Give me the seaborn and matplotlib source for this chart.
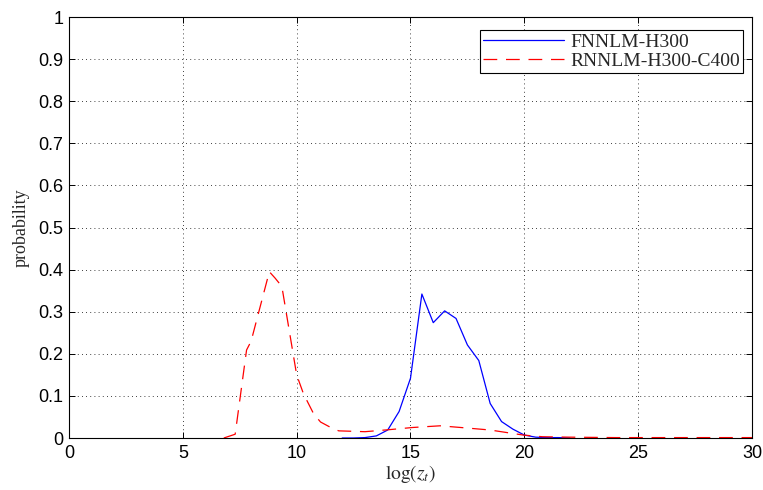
import numpy as np
import pandas as pd
import matplotlib
matplotlib.use("Agg")
import matplotlib.pyplot as plt
import seaborn as sns

# Probability distributions of log(z_t) for the two language models
fnn_x = [12.0, 12.5, 13.0, 13.5, 14.0, 14.5, 15.0, 15.5, 16.0, 16.5, 17.0, 17.5,
         18.0, 18.5, 19.0, 19.5, 20.0, 20.5, 21.0, 21.5, 22.0]
fnn_y = [0.0, 0.0, 0.001, 0.005, 0.019, 0.063, 0.142, 0.342, 0.274, 0.302, 0.284, 0.221,
         0.184, 0.082, 0.039, 0.021, 0.007, 0.002, 0.001, 0.001, 0.0]

rnn_x = [6.8, 7.3, 7.8, 8.0, 8.8, 9.05, 9.35, 10.0, 10.3, 10.75, 11.05, 11.6, 11.85,
         13.0, 14.1, 15.1, 16.3, 17.2, 18.5, 19.95, 20.8, 22.0, 24.0, 26.0, 28.0, 30.0]
rnn_y = [0.0, 0.009, 0.209, 0.23, 0.395, 0.38, 0.36, 0.15, 0.105, 0.057, 0.038, 0.022, 0.017,
         0.015, 0.02, 0.025, 0.029, 0.025, 0.019, 0.007, 0.003, 0.002, 0.001, 0.001, 0.001, 0.001]

series_names = ["FNNLM-H300", "RNNLM-H300-C400"]

df = pd.concat([
    pd.DataFrame({"x": fnn_x, "y": fnn_y, "model": series_names[0]}),
    pd.DataFrame({"x": rnn_x, "y": rnn_y, "model": series_names[1]}),
], ignore_index=True)

sns.set_theme(style="white")
plt.rcParams["mathtext.fontset"] = "stix"
plt.rcParams["xtick.direction"] = "in"
plt.rcParams["ytick.direction"] = "in"

fig = plt.figure(figsize=(7.63, 4.90), dpi=100)
ax = fig.add_axes([0.0904, 0.1061, 0.8952, 0.8592])

sns.lineplot(data=df, x="x", y="y", hue="model", style="model",
             palette={series_names[0]: "#0000ff", series_names[1]: "#ff0000"},
             dashes={series_names[0]: "", series_names[1]: (11, 7)},
             linewidth=0.9, ax=ax, legend=True, sort=False, estimator=None)

ax.set_xlim(0, 30)
ax.set_ylim(0, 1)
ax.set_xticks(np.arange(0, 31, 5))
ax.set_yticks(np.round(np.arange(0, 1.01, 0.1), 1))
ax.set_xticklabels([str(v) for v in range(0, 31, 5)])
ax.set_yticklabels(["0"] + [f"{v:.1f}" for v in np.arange(0.1, 0.95, 0.1)] + ["1"])

for lab in ax.get_xticklabels() + ax.get_yticklabels():
    lab.set_fontfamily("Liberation Sans")
    lab.set_fontsize(13)
    lab.set_color("black")

ax.tick_params(axis="both", which="major", direction="in", length=4, width=0.7,
               top=True, right=True, bottom=True, left=True, colors="black", pad=4)
ax.tick_params(axis="x", pad=5)

ax.grid(True, color="black", linestyle=(0, (1, 4)), linewidth=0.6)
for s in ax.spines.values():
    s.set_color("black")
    s.set_linewidth(0.8)

ax.set_xlabel(r"$\log(z_t)$", fontsize=14, labelpad=1)
ax.set_ylabel("probability", fontfamily="Liberation Serif", fontsize=13, labelpad=6)

leg = ax.legend(loc="upper right", bbox_to_anchor=(0.9868, 0.968), frameon=True,
                fancybox=False, framealpha=1, edgecolor="black", borderaxespad=0.0,
                handlelength=4.2, handletextpad=0.3, borderpad=0.15, labelspacing=0.05,
                prop={"family": "Liberation Serif", "size": 14})
leg.get_frame().set_linewidth(0.8)

fig.savefig("out.png", dpi=100)
